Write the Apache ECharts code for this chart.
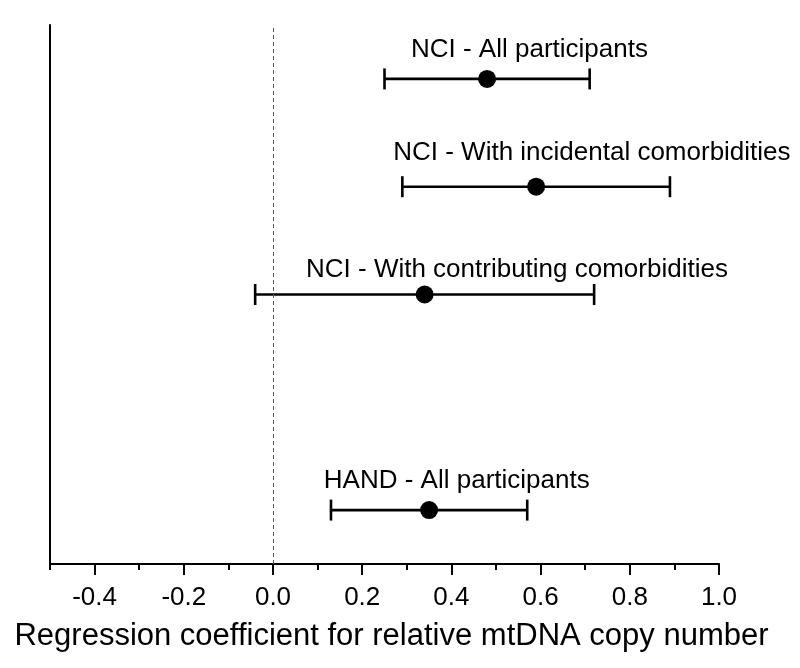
<!DOCTYPE html>
<html>
<head>
<meta charset="utf-8">
<script src="https://cdn.jsdelivr.net/npm/echarts@6/dist/echarts.min.js"></script>
<style>
  html, body { margin: 0; padding: 0; background: #fff; }
  #chart { width: 800px; height: 668px; }
</style>
</head>
<body>
<div id="chart"></div>
<script>
// groups, top to bottom
var groups = ['NCI - All participants', 'NCI - With incidental comorbidities',
  'NCI - With contributing comorbidities', 'HAND - All participants'];
var rowY = [4.5, 3.5, 2.5, 0.5];
var estimate = [0.48, 0.59, 0.34, 0.35];
var lower = [0.25, 0.29, -0.04, 0.13];
var upper = [0.71, 0.89, 0.72, 0.57];
// where each group's caption sits, in axis units
var labelX = [0.575, 0.715, 0.547, 0.412];
var labelY = [4.77, 3.81, 2.73, 0.77];

var majorTicks = [-0.4, -0.2, 0.0, 0.2, 0.4, 0.6, 0.8, 1.0];
var minorTicks = [-0.5, -0.3, -0.1, 0.1, 0.3, 0.5, 0.7, 0.9];

var FONT = "'Liberation Sans', Arial, sans-serif";

var chart = echarts.init(document.getElementById('chart'));

var barData = groups.map(function (g, i) {
  return [lower[i], upper[i], rowY[i]];
});
var pointData = groups.map(function (g, i) {
  return [estimate[i], rowY[i]];
});
var labelData = groups.map(function (g, i) {
  return { name: g, value: [labelX[i], labelY[i]] };
});

function renderBar(params, api) {
  var lo = api.coord([api.value(0), api.value(2)]);
  var hi = api.coord([api.value(1), api.value(2)]);
  var h = 10.5;
  var style = { stroke: '#000', lineWidth: 2.6 };
  return {
    type: 'group',
    children: [
      { type: 'line', shape: { x1: lo[0], y1: lo[1], x2: hi[0], y2: hi[1] }, style: style },
      { type: 'line', shape: { x1: lo[0], y1: lo[1] - h, x2: lo[0], y2: lo[1] + h }, style: style },
      { type: 'line', shape: { x1: hi[0], y1: hi[1] - h, x2: hi[0], y2: hi[1] + h }, style: style }
    ]
  };
}

var option = {
  backgroundColor: '#fff',
  animation: false,
  grid: { left: 50, right: 81, top: 25, bottom: 104 },
  xAxis: [{
    type: 'value',
    min: -0.5,
    max: 1.0,
    splitLine: { show: false },
    axisLine: { onZero: false, lineStyle: { color: '#000', width: 2 } },
    axisTick: { customValues: majorTicks, length: 11, lineStyle: { color: '#000', width: 2 } },
    axisLabel: {
      customValues: majorTicks,
      color: '#000',
      fontFamily: FONT,
      fontSize: 26,
      margin: 21,
      formatter: function (v) { return v.toFixed(1); }
    },
    name: 'Regression coefficient for relative mtDNA copy number',
    nameLocation: 'middle',
    nameGap: 57,
    nameTextStyle: { color: '#000', fontFamily: FONT, fontSize: 31, padding: [0, 0, 0, 14] }
  }, {
    type: 'value',
    min: -0.5,
    max: 1.0,
    position: 'bottom',
    splitLine: { show: false },
    axisLine: { show: false, onZero: false },
    axisTick: { customValues: minorTicks, length: 6, lineStyle: { color: '#000', width: 2 } },
    axisLabel: { show: false }
  }],
  yAxis: {
    type: 'value',
    min: 0,
    max: 5,
    splitLine: { show: false },
    axisLine: { show: true, onZero: false, lineStyle: { color: '#000', width: 2 } },
    axisTick: { show: false },
    axisLabel: { show: false }
  },
  series: [
    {
      type: 'custom',
      renderItem: renderBar,
      data: barData,
      z: 2,
      markLine: {
        silent: true,
        symbol: 'none',
        label: { show: false },
        lineStyle: { color: '#555', type: [4, 3], width: 1 },
        data: [{ xAxis: 0 }]
      }
    },
    {
      type: 'scatter',
      symbol: 'circle',
      symbolSize: 18,
      itemStyle: { color: '#000', opacity: 1 },
      data: pointData,
      z: 3
    },
    {
      type: 'scatter',
      symbolSize: 0,
      data: labelData,
      itemStyle: { opacity: 1 },
      label: {
        show: true,
        position: 'inside',
        formatter: '{b}',
        color: '#000',
        fontFamily: FONT,
        fontSize: 26
      }
    }
  ]
};

chart.setOption(option);
</script>
</body>
</html>
